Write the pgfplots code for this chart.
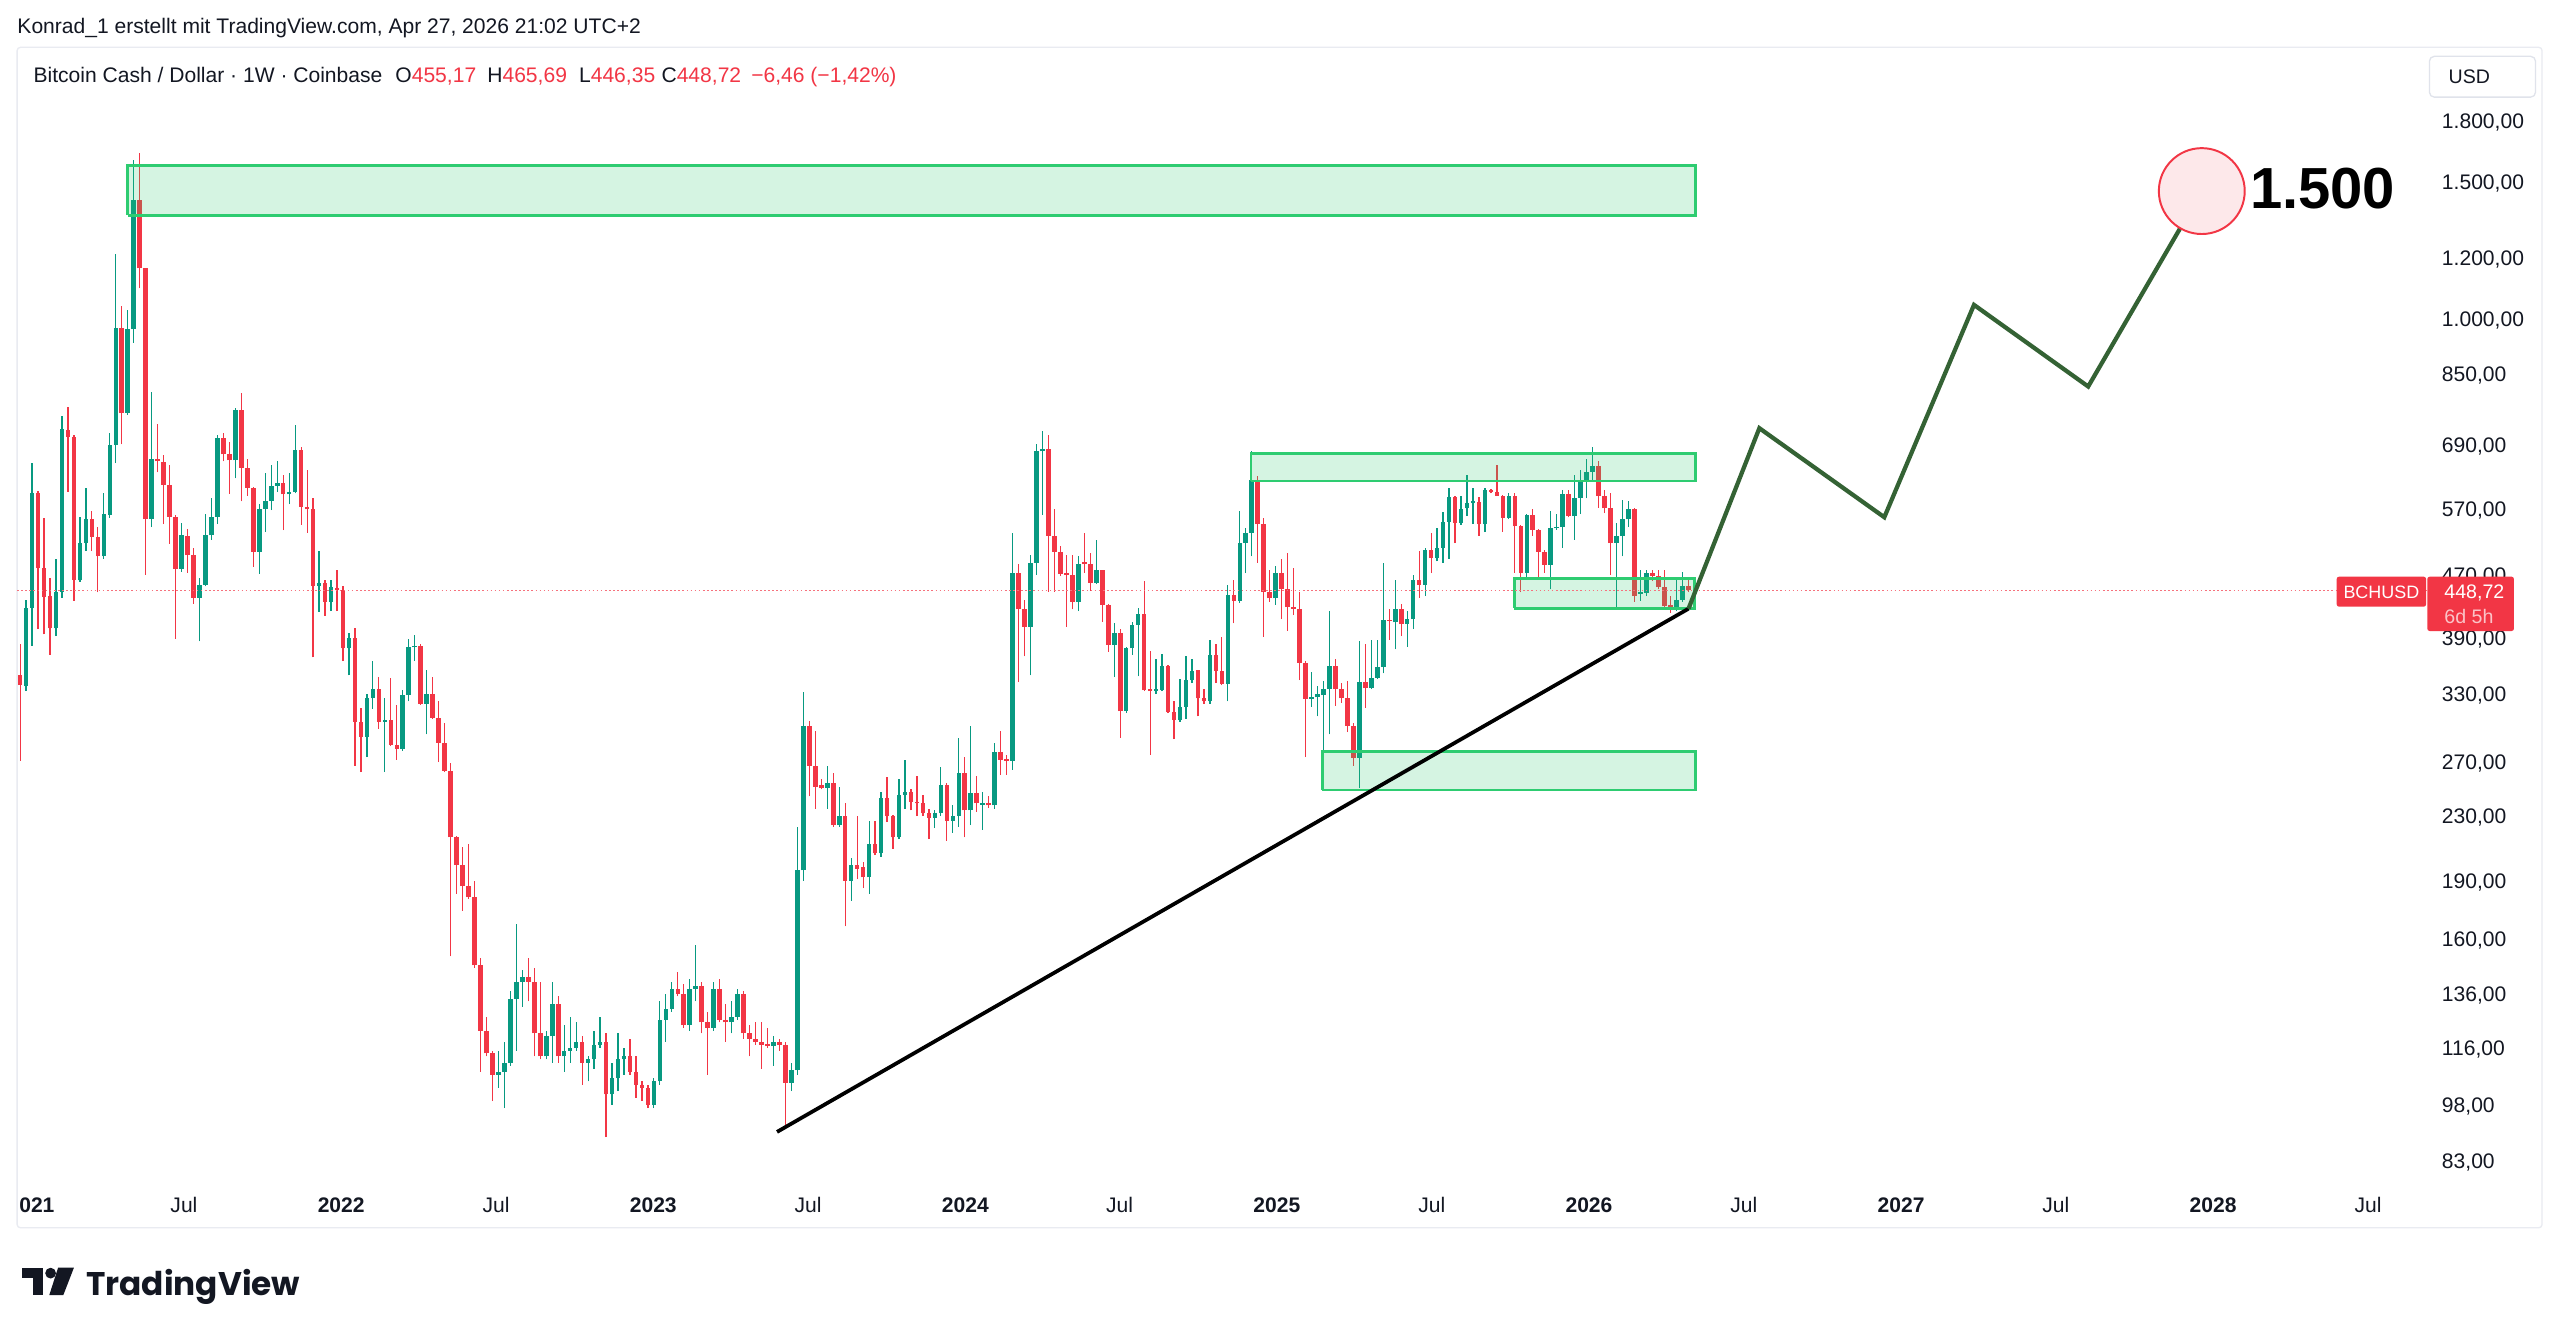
\documentclass[border=0pt]{standalone}
\usepackage{pgfplots}
\pgfplotsset{compat=1.18}
\usepackage{pgfplotstable}
\usepackage{fontspec}
\setmainfont{Liberation Sans}
\newfontfamily\tvfont{Poppins}
\definecolor{tvgreen}{RGB}{8,153,129}
\definecolor{tvred}{RGB}{242,54,69}
\definecolor{boxgreen}{RGB}{46,204,113}
\definecolor{projgreen}{RGB}{52,98,52}
\definecolor{txt}{RGB}{19,23,34}
\definecolor{panegray}{RGB}{224,227,235}
\definecolor{circlefill}{RGB}{253,232,234}

% weekly candles: n = week index, O H L C in USD
\pgfplotstableread{
n O H L C
2 338 436 333 426
3 426 654 381 599
7 401 492 392 447
8 447 751 439 723
11 462 557 460 516
12 516 608 504 554
15 496 598 493 562
16 561 715 556 690
17 690 1212 654 974
19 758 1029 754 972
20 972 1603 933 1425
23 554 808 541 662
28 478 548 474 528
31 439 466 386 456
32 456 562 454 528
33 528 590 521 558
34 558 710 546 704
37 659 769 625 765
41 503 580 471 571
42 571 635 533 585
43 585 650 569 611
44 611 657 600 616
46 596 635 579 600
47 600 731 598 679
51 455 504 421 459
53 434 463 422 453
56 378 395 349 390
59 291 330 274 326
60 326 364 316 335
62 304 326 262 306
65 281 334 279 329
66 329 389 323 379
67 379 393 364 381
69 321 354 293 330
81 107 115 103 108
82 108 118 97 111
83 111 137 110 134
84 134 167 115 141
85 141 146 131 143
89 113 122 112 120
90 120 141 111 132
92 113 124 108 115
93 115 127 111 116
94 116 125 115 118
96 111 113 105 112
97 112 122 109 117
98 117 127 116 118
100 101 111 98 106
101 106 121 102 112
102 112 116 107 113
107 98 106 97 105
108 105 133 104 126
109 126 136 118 130
110 130 141 129 138
113 124 142 122 138
114 138 157 133 139
117 123 141 122 138
120 125 133 121 127
121 127 138 126 136
127 116.5 120 110 118
130 104.5 111 102 108.5
131 108.5 223 107 196
132 196 332 190 300
136 250 267 235 254
138 224 251 223 230
140 190 203 179 199
143 192 227 183 212
145 206 247 204 243
148 216 257 215 245
149 245 272 235 247
154 229 234 222 232
155 232 266 230 252
157 227 238 219 230
158 230 290 223 261
160 234 300 224 246
162 238 247 221 239
164 237.5 286 235 278
167 271 532 264 472
170 403 498 349 487
171 487 691 470 677
172 677 719 561 681
178 434 496 422 485
181 459 521 457 476
184 382 407 347 395
186 314 379 312 378
187 378 408 371 405
188 405 426 348 418
191 333 366 330 334.5
192 334.5 372 333 358.5
195 306 345 304 318
196 318 369 307 344
197 344 366 341 353.5
200 323 388 321 370.5
203 340.5 456 323 443
205 435 568 432 516
206 516 539 472 532
207 532 678 496 622
211 438 482 430 472
217 325.5 352 318 327
218 327 338 309 330
219 329 343 272 335
220 335 422 293 358.5
225 273.5 386 250 342
227 336 387 335 346.5
228 346.5 388 345 358
229 358 486 351 410.5
231 408 462 377 424
233 406 422 380 412
234 412 470 400 462
236 456 508 441 506
238 493.5 539 489 509
239 509 565 487 550
240 550 607 493 591
242 548 593 545 570
243 572 632 559 581
244 581 608 546 583.5
246 546 608 533 603
250 556.5 598 554 594
253 472 563 466 561
257 484 567 450 539
258 539 563 537 541
259 541 604 509 597
261 559 631 521 590.5
262 590.5 641 562 622.5
263 622.5 662 589 637.5
264 637.5 686 620 648
268 516 548 426 527
269 527 587 496 553.5
270 553.5 585 541 570
272 444 477 435 445.5
273 445.5 477 441 472
278 424 462 422 436.5
279 436.5 474 434 455
}\greenc

\pgfplotstableread{
n O H L C
1 349 383 271 339
4 599 602 400 480
5 480 556 394 440
6 441 466 371 401
9 722 772 601 707
10 707 710 435 463
13 554 567 504 526
14 526 541 446 496
18 974 1040 691 758
21 1425 1638 1096 1163
22 1163 1165 470 554
24 662 735 636 657
25 656 670 546 613
26 613 650 515 558
27 558 561 389 478
29 527 538 473 498
30 498 509 431 439
35 704 715 657 671
36 671 695 597 659
38 765 804 584 645
39 645 662 594 608
40 608 610 481 503
45 616 631 536 596
48 679 686 545 575
49 575 641 532 570
50 570 590 368 455
52 459 463 416 434
54 452 477 422 449
55 449 454 364 378
57 390 401 267 304
58 304 317 262 291
61 335 347 298 304
63 306 346 283 284
64 284 320 272 281
68 381 383 320 321
70 330 347 307 308
71 308 323 270 286
72 286 303 262 263
73 263 269 152 216
74 216 217 183 199
75 199 210 174 187
76 187 212 180 181
77 181 190 147 148
78 148 151 108 122
79 122 127 113 114
80 114 115 99 107
86 143 151 133 141
87 141 147 113 121
88 121 141 112 113
91 132 135 111 113
95 118 120 104 111
99 118 121 89 101
103 113 119 107 108
104 108 113 100 104
105 104 105 99 103
106 103 104 97 98
111 138 145 135 136
112 136 140 123 124
115 139 141 121 125
116 125 129 107 123
118 138 142 125 126
119 126 132 118 125
122 136 137 119 121
123 121 124 113 119
124 119 125 117 118
125 118 125 109 117
126 117 123 116 116.5
128 118 119 115 117
129 117 118 92 104.5
133 300 305 244 267
134 267 296 235 251
135 252 257 249 250
137 254 261 223 224
139 230 239 166 190
141 199 230 191 197
142 198 201 186 192
144 212 227 205 206
146 243 258 226 230
147 230 231 209 216
150 247 249 234 240
151 240 259 230 239
152 239 245 230 232
153 232 235 215 229
156 252 254 214 227
159 261 274 216 234
161 246 259 233 239
163 239 244 236 237.5
165 278 296 260 272
166 272 276 260 271
168 472 485 342 424
169 424 436 369 403
173 681 711 447 527
174 527 570 447 503
175 503 511 468 471
176 471 498 403 470
177 470 498 424 434
179 487 531 473 485
180 485 501 448 459
182 476 477 409 430
183 430 431 374 382
185 395 400 290 314
189 418 461 333 334
190 334 375 276 333
193 358.5 360 312 313.5
194 313.5 323 289 306
198 354 355 309 326
199 326 335 321 323
201 370.5 383 341 353.5
202 353.5 391 339 340.5
204 443 463 407 435
208 622 629 487 546
209 546 556 391 447
210 447 477 434 438
212 472 492 412 450
213 450 501 398 427
214 427 480 417 425
215 425 446 344 362
216 362 364 274 325.5
221 358.5 366 319 335
222 335 341 322 326
223 326 343 295 300.5
224 300.5 303 267 273.5
226 342 383 317 336
230 410.5 424 388 409.5
232 424 431 392 406
235 462 504 439 456
237 506 532 472 493.5
241 591 593 516 548
245 583.5 591 527 546
247 604 605 598 600.5
248 600.5 650 593 594
249 594 595 534 556.5
251 594 598 473 542
252 542 544 446 472
254 561 570 527 537
255 537 538 463 503
256 503 506 473 484
260 597 604 557 559
265 648 658 573 593
266 593 604 564 572
267 572 598 470 516
271 570 572 434 441
274 472 477 461 468
275 468 477 450 453
276 453 477 424 428
277 430 441 420 424
280 455.17 465.69 446.35 448.72
}\redc

\begin{document}
\begin{tikzpicture}[x=1pt,y=1pt]
\path[use as bounding box] (0,0) rectangle (1568,-818);
\fill[white] (0,0) rectangle (1568,-818);
\draw[panegray!70, line width=0.8pt, rounded corners=2pt] (10.5,-29) rectangle (1557,-752);

\node[anchor=base west, inner sep=0, text=txt, font=\fontsize{12.9}{15}\selectfont] at (10.5,-20.5)
  {Konrad\_1 erstellt mit TradingView.com, Apr 27, 2026 21:02 UTC+2};

\begin{axis}[
  at={(10.5pt,-726pt)}, anchor=south west,
  scale only axis, width=1476.5pt, height=696pt,
  xmin=0.5, xmax=403.7,
  ymode=log, ymin=77.2, ymax=2226,
  axis line style={draw=none},
  major tick length=0pt, minor tick length=0pt,
  xminorticks=false, yminorticks=false,
  tick label style={font=\fontsize{12.9}{15}\selectfont, text=txt},
  xtick={3.8,28.4,54.7,80.6,106.9,132.8,159.1,184.9,211.2,237.1,263.4,289.3,315.6,341.5,367.8,393.7},
  xticklabels={\textbf{021},Jul,\textbf{2022},Jul,\textbf{2023},Jul,\textbf{2024},Jul,\textbf{2025},Jul,\textbf{2026},Jul,\textbf{2027},Jul,\textbf{2028},Jul},
  xticklabel style={anchor=base, yshift=-16.5pt, inner sep=0pt},
  ytick={83,98,116,136,160,190,230,270,330,390,470,570,690,850,1000,1200,1500,1800},
  yticklabels={{83,00},{98,00},{116,00},{136,00},{160,00},{190,00},{230,00},{270,00},{330,00},{390,00},{470,00},{570,00},{690,00},{850,00},{1.000,00},{1.200,00},{1.500,00},{1.800,00}},
  yticklabel pos=right,
  yticklabel style={anchor=base west, xshift=8.5pt, yshift=-4.6pt, inner sep=0pt},
]
% wicks
\addplot[draw=none, mark=none, error bars/.cd, y dir=plus, y explicit, error mark=none,
  error bar style={draw=tvgreen, line width=0.75pt}]
  table[x=n, y=L, y error plus expr={\thisrow{H}-\thisrow{L}}] {\greenc};
\addplot[draw=none, mark=none, error bars/.cd, y dir=plus, y explicit, error mark=none,
  error bar style={draw=tvred, line width=0.75pt}]
  table[x=n, y=L, y error plus expr={\thisrow{H}-\thisrow{L}}] {\redc};
% bodies
\addplot[draw=none, mark=none, error bars/.cd, y dir=plus, y explicit, error mark=none,
  error bar style={draw=tvgreen, line width=2.8pt}]
  table[x=n, y=O, y error plus expr={max(\thisrow{C}-\thisrow{O},0.005*\thisrow{O})}] {\greenc};
\addplot[draw=none, mark=none, error bars/.cd, y dir=plus, y explicit, error mark=none,
  error bar style={draw=tvred, line width=2.8pt}]
  table[x=n, y=C, y error plus expr={max(\thisrow{O}-\thisrow{C},0.005*\thisrow{C})}] {\redc};

% zones
\addplot[draw=boxgreen, line width=1.6pt, fill=boxgreen, fill opacity=0.2, line join=miter]
  coordinates {(19,1361) (281.2,1361) (281.2,1578) (19,1578) (19,1361)};
\addplot[draw=boxgreen, line width=1.6pt, fill=boxgreen, fill opacity=0.2, line join=miter]
  coordinates {(206.9,620) (281.2,620) (281.2,673) (206.9,673) (206.9,620)};
\addplot[draw=boxgreen, line width=1.6pt, fill=boxgreen, fill opacity=0.2, line join=miter]
  coordinates {(250.9,425.5) (281.1,425.5) (281.1,465) (250.9,465) (250.9,425.5)};
\addplot[draw=boxgreen, line width=1.6pt, fill=boxgreen, fill opacity=0.2, line join=miter]
  coordinates {(218.8,248.6) (281.2,248.6) (281.2,278.8) (218.8,278.8) (218.8,248.6)};

% last price line
\addplot[tvred!70, line width=0.6pt, dash pattern=on 1pt off 1.5pt] coordinates {(0.5,448.72) (403.7,448.72)};

% trend line
\addplot[black, line width=2.3pt] coordinates {(127.6,90.4) (280.05,425)};

% target circle
\addplot[only marks, mark=*, mark size=26.3pt, mark options={fill=circlefill, draw=tvred, line width=1.2pt}]
  coordinates {(365.9,1462)};

% projected path
\addplot[projgreen, line width=2.6pt, line join=miter] coordinates {
  (280.05,425) (291.9,725) (312.8,557) (327.8,1044) (346.9,820) (365.9,1462)};
\end{axis}

% big label
\node[anchor=base west, inner sep=0, font=\fontsize{35.5}{40}\selectfont\bfseries] at (1378,-128) {1.500};

% legend line
\begin{scope}[every node/.style={anchor=base west, inner sep=0, text=txt, font=\fontsize{12.9}{15}\selectfont}]
\node at (20.4,-50.5) {Bitcoin Cash / Dollar · 1W · Coinbase};
\node at (242,-50.5) {O\textcolor{tvred}{455,17}};
\node at (298.3,-50.5) {H\textcolor{tvred}{465,69}};
\node at (354.5,-50.5) {L\textcolor{tvred}{446,35}};
\node at (405,-50.5) {C\textcolor{tvred}{448,72}};
\node at (460,-50.5) {\textcolor{tvred}{−6,46 (−1,42\%)}};
\end{scope}

% USD box
\draw[panegray, line width=0.8pt, rounded corners=3pt, fill=white] (1488,-34.5) rectangle (1553,-59.5);
\node[anchor=base, inner sep=0, text=txt, font=\fontsize{12}{14}\selectfont] at (1512.5,-51) {USD};

% price tags
\fill[tvred, rounded corners=1.5pt] (1431.2,-353.2) rectangle (1486,-371.6);
\node[anchor=base, inner sep=0, text=white, font=\fontsize{11}{13}\selectfont] at (1458.6,-366.3) {BCHUSD};
\fill[tvred, rounded corners=1.5pt] (1486.7,-353.2) rectangle (1539.8,-386.5);
\node[anchor=base west, inner sep=0, text=white, font=\fontsize{12}{14}\selectfont] at (1497,-366.3) {448,72};
\node[anchor=base west, inner sep=0, text=white, text opacity=0.7, font=\fontsize{12}{14}\selectfont] at (1497,-381.8) {6d 5h};

% TradingView logo
\fill[txt] (13.3,-776.4) rectangle (26.5,-783.0);
\fill[txt] (20.4,-776.4) rectangle (26.5,-793.2);
\fill[txt] (31.0,-779.8) circle (3.3);
\fill[txt] (35.6,-776.4) -- (45.3,-776.4) -- (38.8,-793.2) -- (30.2,-793.2) -- cycle;
\node[anchor=base west, inner sep=0, text=txt] at (52.7,-793.2)
  {\resizebox{131pt}{!}{\tvfont\bfseries TradingView}};
\end{tikzpicture}
\end{document}
